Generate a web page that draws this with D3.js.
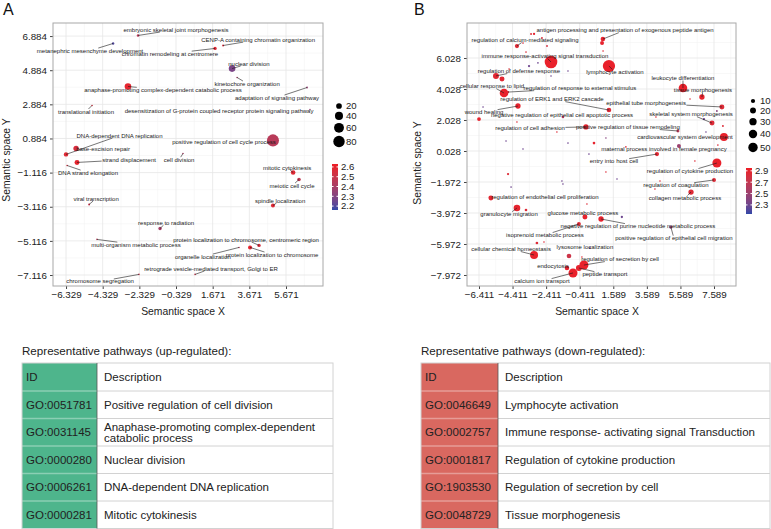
<!DOCTYPE html>
<html>
<head>
<meta charset="utf-8">
<script src="https://cdn.jsdelivr.net/npm/d3@7"></script>
<style>
  body { margin: 0; background: #fff; }
  svg { font-family: "Liberation Sans", Arial, Helvetica, sans-serif; }
</style>
</head>
<body>
<svg id="fig" width="771" height="529"></svg>
<script>
// ---- Panel A: up-regulated GO terms (semantic space) ----
const termsA = ["embryonic skeletal joint morphogenesis", "metanephric mesenchyme development", "chromatin remodeling at centromere",
  "CENP-A containing chromatin organization", "nuclear division", "kinetochore organization", "adaptation of signaling pathway",
  "desensitization of G-protein coupled receptor protein signaling pathway", "anaphase-promoting complex-dependent catabolic process",
  "translational initiation", "DNA-dependent DNA replication", "base-excision repair", "strand displacement", "DNA strand elongation",
  "cell division", "positive regulation of cell cycle process", "mitotic cytokinesis", "meiotic cell cycle", "spindle localization",
  "viral transcription", "response to radiation", "multi-organism metabolic process",
  "protein localization to chromosome, centromeric region", "protein localization to chromosome", "organelle localization",
  "retrograde vesicle-mediated transport, Golgi to ER", "chromosome segregation"];
const xA = [-2.40, -3.76, 1.80, 2.24, 2.73, 3.00, 6.82, 6.98, -2.95, -4.91, -6.33, -5.78, -5.73, -6.27, 0.05, 4.96, 6.06, 6.38, 4.96, -5.07, -1.20, -4.64, 4.20, 3.71, 3.11, 0.71, -2.35];
const yA = [6.92, 6.45, 6.16, 6.33, 4.98, 4.46, 3.87, 2.58, 3.93, 2.82, -0.05, 0.30, -0.52, -0.70, 0.00, 0.77, -1.11, -1.52, -3.04, -2.98, -4.39, -5.03, -5.38, -5.50, -5.50, -7.08, -7.08];
const sizeA = [4, 3.5, 7, 2.5, 27, 1.5, 2, 1.5, 27, 1.5, 12, 18, 15, 1.5, 1.5, 90, 13, 8, 10, 2.5, 7, 1.5, 7, 10, 1.5, 1.5, 1.5];
const valueA = [2.45, 2.2, 2.58, 2.55, 2.28, 2.4, 2.35, 2.35, 2.6, 2.55, 2.58, 2.55, 2.6, 2.55, 2.4, 2.45, 2.58, 2.48, 2.58, 2.5, 2.4, 2.45, 2.55, 2.6, 2.45, 2.5, 2.5];
const labelXA = [-0.33, -5.02, -0.66, 4.15, 3.65, 3.55, 5.18, 2.02, -1.04, -5.24, -3.41, -4.31, -2.89, -5.13, -0.16, 2.29, 5.73, 6.00, 5.35, -4.69, -0.87, -2.51, 3.49, 4.91, 1.14, 1.58, -4.47];
const labelYA = [7.27, 6.04, 5.86, 6.68, 5.28, 4.11, 3.29, 2.52, 3.74, 2.47, 1.06, 0.30, -0.35, -1.11, -0.35, 0.71, -0.82, -1.87, -2.75, -2.63, -4.04, -5.33, -5.03, -5.91, -6.03, -6.73, -7.49];
const ticksXA = [-6.329, -4.329, -2.329, -0.329, 1.671, 3.671, 5.671];
const ticksYA = [-7.116, -5.116, -3.116, -1.116, 0.884, 2.884, 4.884, 6.884];
const legendSizesA = [20, 40, 60, 80];
const legendColorsA = [2.2, 2.3, 2.4, 2.5, 2.6];

// ---- Panel B: down-regulated GO terms ----
const termsB = ["antigen processing and presentation of exogenous peptide antigen", "regulation of calcium-mediated signaling",
  "immune response-activating signal transduction", "lymphocyte activation", "regulation of defense response",
  "cellular response to lipid", "regulation of response to external stimulus", "leukocyte differentiation", "tissue morphogenesis",
  "regulation of ERK1 and ERK2 cascade", "epithelial tube morphogenesis", "wound healing",
  "negative regulation of epithelial cell apoptotic process", "skeletal system morphogenesis", "regulation of cell adhesion",
  "positive regulation of tissue remodeling", "cardiovascular system development", "maternal process involved in female pregnancy",
  "entry into host cell", "regulation of cytokine production", "regulation of coagulation", "collagen metabolic process",
  "regulation of endothelial cell proliferation", "granulocyte migration", "glucose metabolic process",
  "negative regulation of purine nucleotide metabolic process", "isoprenoid metabolic process",
  "positive regulation of epithelial cell migration", "lysosome localization", "cellular chemical homeostasis", "endocytosis",
  "regulation of secretion by cell", "peptide transport", "calcium ion transport"];
const xB = [0.97, -4.15, -2.12, 1.33, -5.40, -4.92, -4.68, 5.74, 6.87, 1.33, 8.06, -4.09, -1.41, 7.47, -0.04, 5.44, 8.18, 5.50, 4.19, 7.76, 7.59, 6.22, -5.70, -4.15, -0.10, 0.86, -0.46, 5.02, 0.20, -3.13, -1.17, -0.16, -0.46, -0.81];
const yB = [7.25, 6.80, 5.77, 5.51, 4.87, 3.77, 3.83, 4.09, 3.51, 2.67, 2.87, 2.93, 2.22, 1.83, 1.58, 1.32, 0.93, 0.35, -0.17, -0.75, -1.84, -2.62, -3.00, -3.65, -4.23, -4.36, -4.68, -4.88, -6.23, -6.68, -7.52, -7.33, -7.52, -7.84];
const sizeB = [12, 10, 90, 85, 20, 42, 3, 42, 16, 12, 14, 16, 4, 14, 16, 5, 36, 9, 10, 46, 9, 16, 14, 25, 14, 16, 9, 6, 2, 36, 12, 46, 20, 46];
const valueB = [2.9, 2.85, 2.92, 2.92, 2.88, 2.92, 2.85, 2.92, 2.9, 2.85, 2.85, 2.9, 2.6, 2.85, 2.9, 2.65, 2.92, 2.5, 2.88, 2.92, 2.85, 2.85, 2.88, 2.9, 2.9, 2.9, 2.85, 2.45, 2.3, 2.92, 2.9, 2.92, 2.9, 2.92];
const labelXB = [2.29, -3.67, -2.48, 1.69, -4.03, -5.64, -0.40, 5.74, 6.93, -2.06, 3.54, -6.11, -1.47, 6.22, -3.37, 2.46, 5.86, 4.61, 1.63, 6.16, 5.32, 5.86, -2.48, -4.62, -0.22, 3.06, -2.48, 5.20, -0.10, -4.50, -2.00, 1.99, 1.09, -2.66];
const labelYB = [7.83, 7.19, 6.16, 5.13, 5.19, 4.22, 4.09, 4.74, 3.96, 3.38, 3.12, 2.54, 2.35, 2.41, 1.51, 1.58, 0.93, 0.16, -0.62, -1.26, -2.17, -3.00, -2.94, -4.04, -3.97, -4.81, -5.39, -5.59, -6.17, -6.29, -7.39, -6.94, -7.91, -8.36];
// unlabelled terms in panel B
const extraXB = [-3.31, -3.13, -2.66, -2.36, -3.79, -3.61, 0.92, 0.98, -3.43, -2.90, -1.11, -2.12, -4.62, -6.17, -6.41, -4.15, -1.77, -4.80, -3.79, -1.11, 6.16, 7.76, 6.99, 8.12, 4.13, 7.11, 0.44, 1.15, 2.34, 6.45, 7.82, 0.14, 1.15, 1.81, 4.37, 4.07, 0.02, 2.10, -4.68, -4.50, -1.47, -1.41, -3.61, -2.96, -2.54, -1.05, -0.28, -5.04];
const extraYB = [7.58, 7.58, 7.32, 6.80, 6.99, 6.41, 6.99, 6.48, 5.51, 5.71, 5.19, 4.87, 5.32, 2.87, 2.09, 1.90, 1.25, 0.67, 0.16, 0.54, 3.38, 2.61, 2.09, 1.64, 2.22, 1.25, 0.54, 0.87, 0.29, -0.62, 0.41, -0.17, -1.33, -1.78, -1.91, -2.42, -3.39, -4.23, -1.46, -2.30, -1.91, -2.10, -3.78, -5.91, -5.84, -6.75, -6.81, 4.67];
const extraSizeB = [2, 3, 2, 2, 1.5, 1.5, 9, 1.5, 3, 1.5, 1.5, 1.5, 1.5, 1.5, 8, 1.5, 1.5, 1.5, 1.5, 1.5, 1.5, 2, 3, 2, 1.5, 1.5, 4, 1.5, 1.5, 1.5, 1.5, 1.5, 1.5, 1.5, 1.5, 1.5, 1.5, 3, 3, 1.5, 1.5, 1.5, 4, 4, 1.5, 12, 1.5, 14];
const extraValueB = [2.85, 2.9, 2.85, 2.8, 2.8, 2.85, 2.9, 2.85, 2.3, 2.3, 2.3, 2.3, 2.8, 2.3, 2.9, 2.85, 2.85, 2.3, 2.3, 2.3, 2.85, 2.4, 2.3, 2.85, 2.85, 2.3, 2.9, 2.4, 2.85, 2.85, 2.85, 2.3, 2.85, 2.3, 2.85, 2.85, 2.85, 2.3, 2.85, 2.3, 2.3, 2.3, 2.85, 2.85, 2.85, 2.75, 2.85, 2.88];
const ticksXB = [-6.411, -4.411, -2.411, -0.411, 1.589, 3.589, 5.589, 7.589];
const ticksYB = [-7.972, -5.972, -3.972, -1.972, 0.028, 2.028, 4.028, 6.028];
const legendSizesB = [10, 20, 30, 40, 50];
const legendColorsB = [2.3, 2.5, 2.7, 2.9];

// ---- tables ----
const idsUp = ["GO:0051781", "GO:0031145", "GO:0000280", "GO:0006261", "GO:0000281"];
const descUp = ["Positive regulation of cell division", "Anaphase-promoting complex-dependent catabolic process",
  "Nuclear division", "DNA-dependent DNA replication", "Mitotic cytokinesis"];
const idsDown = ["GO:0046649", "GO:0002757", "GO:0001817", "GO:1903530", "GO:0048729"];
const descDown = ["Lymphocyte activation", "Immune response- activating signal Transduction",
  "Regulation of cytokine production", "Regulation of secretion by cell", "Tissue morphogenesis"];

const svg = d3.select("#fig");
const LOW = "#3048a8", HIGH = "#ee1c25";
const fmt = d3.format(".3f");

function gridVals(ticks, dom) {
  const lo = Math.min(...dom), hi = Math.max(...dom);
  return [ticks[0] - 1, ...ticks.map(t => t + 1)].filter(v => v > lo && v < hi);
}

function drawPanel(p) {
  const g = svg.append("g");
  const x = d3.scaleLinear().domain(p.xDomain).range([p.left, p.right]);
  const y = d3.scaleLinear().domain(p.yDomain).range([p.bottom, p.top]);
  const r = d3.scaleSqrt().domain([0, p.sizeMax]).range([0, p.rMax]);
  const col = d3.scaleLinear().domain(p.colDomain).range([LOW, HIGH]).interpolate(d3.interpolateLab).clamp(true);

  g.append("rect").attr("x", p.left).attr("y", p.top)
    .attr("width", p.right - p.left).attr("height", p.bottom - p.top).attr("fill", "#fff");

  // grid
  const grid = g.append("g");
  grid.selectAll(".mx").data(gridVals(p.ticksX, p.xDomain)).join("line")
    .attr("x1", d => x(d)).attr("x2", d => x(d)).attr("y1", p.top).attr("y2", p.bottom)
    .attr("stroke", "#f3f3f3").attr("stroke-width", 0.6);
  grid.selectAll(".my").data(gridVals(p.ticksY, p.yDomain)).join("line")
    .attr("y1", d => y(d)).attr("y2", d => y(d)).attr("x1", p.left).attr("x2", p.right)
    .attr("stroke", "#f3f3f3").attr("stroke-width", 0.6);
  grid.selectAll(".gx").data(p.ticksX).join("line")
    .attr("x1", d => x(d)).attr("x2", d => x(d)).attr("y1", p.top).attr("y2", p.bottom)
    .attr("stroke", "#e6e6e6").attr("stroke-width", 0.8);
  grid.selectAll(".gy").data(p.ticksY).join("line")
    .attr("y1", d => y(d)).attr("y2", d => y(d)).attr("x1", p.left).attr("x2", p.right)
    .attr("stroke", "#e6e6e6").attr("stroke-width", 0.8);

  // axes
  const ax = g.append("g").attr("transform", `translate(0,${p.bottom})`)
    .call(d3.axisBottom(x).tickValues(p.ticksX).tickFormat(fmt).tickSize(3).tickPadding(2));
  const ay = g.append("g").attr("transform", `translate(${p.left},0)`)
    .call(d3.axisLeft(y).tickValues(p.ticksY).tickFormat(fmt).tickSize(3).tickPadding(3));
  [ax, ay].forEach(a => {
    a.select(".domain").remove();
    a.selectAll("line").attr("stroke", "#444");
    a.selectAll("text").attr("font-size", 9.8).attr("fill", "#222").attr("font-family", null);
  });

  g.append("rect").attr("x", p.left).attr("y", p.top)
    .attr("width", p.right - p.left).attr("height", p.bottom - p.top)
    .attr("fill", "none").attr("stroke", "#a8a8a8").attr("stroke-width", 1);

  g.append("text").attr("x", p.titleX).attr("y", 315).attr("text-anchor", "middle")
    .attr("font-size", 10.4).attr("fill", "#222").text("Semantic space X");
  g.append("text").attr("transform", `translate(${p.yTitleX},${p.yTitleY}) rotate(-90)`)
    .attr("text-anchor", "middle").attr("font-size", 10.4).attr("fill", "#222").text("Semantic space Y");
  g.append("text").attr("x", p.letterX).attr("y", 15).attr("font-size", 16).attr("fill", "#111").text(p.letter);

  // points
  const pts = p.terms.map((t, i) => ({ t, x: p.xs[i], y: p.ys[i], s: p.sizes[i], v: p.values[i], lx: p.lxs[i], ly: p.lys[i] }));
  const extra = (p.extraX || []).map((d, i) => ({ x: d, y: p.extraY[i], s: p.extraS[i], v: p.extraV[i] }));
  const all = pts.concat(extra).sort((a, b) => b.s - a.s);
  g.append("g").selectAll("circle").data(all).join("circle")
    .attr("cx", d => x(d.x)).attr("cy", d => y(d.y)).attr("r", d => Math.max(0.8, r(d.s)))
    .attr("fill", d => col(d.v));

  const segG = g.append("g");
  const txt = g.append("g").selectAll("text").data(pts).join("text")
    .attr("x", d => x(d.lx)).attr("y", d => y(d.ly)).attr("dy", "0.35em")
    .attr("text-anchor", "middle").attr("font-size", 6).attr("fill", "#1a1a1a")
    .text(d => d.t);

  // repel-style segments from point toward label centre, stopping at the label box
  txt.each(function (d) {
    const bb = this.getBBox();
    const cx = bb.x + bb.width / 2, cy = bb.y + bb.height / 2;
    const px = x(d.x), py = y(d.y);
    const dx = px - cx, dy = py - cy;
    const sx = dx !== 0 ? (bb.width / 2 + 0.5) / Math.abs(dx) : Infinity;
    const sy = dy !== 0 ? (bb.height / 2 - 0.5) / Math.abs(dy) : Infinity;
    const s = Math.min(sx, sy);
    if (s >= 1) return;
    const ex = cx + dx * s, ey = cy + dy * s;
    if (Math.hypot(px - ex, py - ey) < 3) return;
    segG.append("line").attr("x1", ex).attr("y1", ey).attr("x2", px).attr("y2", py)
      .attr("stroke", "#1a1a1a").attr("stroke-width", 0.6);
  });

  // size legend
  const lg = g.append("g");
  let cy = p.legTop;
  p.legSizes.forEach((v, i) => {
    if (i > 0) cy += r(p.legSizes[i - 1]) + r(v) + p.legGap;
    lg.append("circle").attr("cx", p.legX).attr("cy", cy).attr("r", r(v)).attr("fill", "#000");
    lg.append("text").attr("x", p.legX + 7).attr("y", cy).attr("dy", "0.35em")
      .attr("font-size", 9.6).attr("fill", "#222").text(v);
  });

  // colour bar
  const cb = p.bar;
  const gid = "grad" + p.letter;
  const grad = svg.append("defs").append("linearGradient").attr("id", gid)
    .attr("x1", 0).attr("y1", 1).attr("x2", 0).attr("y2", 0);
  d3.range(0, 1.0001, 0.1).forEach(t => {
    const v = p.colDomain[0] + t * (p.colDomain[1] - p.colDomain[0]);
    grad.append("stop").attr("offset", t).attr("stop-color", col(v));
  });
  const by = d3.scaleLinear().domain(p.colDomain).range([cb.y + cb.h, cb.y]);
  lg.append("rect").attr("x", cb.x).attr("y", cb.y).attr("width", cb.w).attr("height", cb.h)
    .attr("fill", `url(#${gid})`);
  p.legColors.forEach(v => {
    lg.append("line").attr("x1", cb.x).attr("x2", cb.x + 1.5).attr("y1", by(v)).attr("y2", by(v)).attr("stroke", "#fff");
    lg.append("line").attr("x1", cb.x + cb.w - 1.5).attr("x2", cb.x + cb.w).attr("y1", by(v)).attr("y2", by(v)).attr("stroke", "#fff");
    lg.append("text").attr("x", cb.x + cb.w + 3).attr("y", by(v)).attr("dy", "0.35em")
      .attr("font-size", 9.6).attr("fill", "#222").text(v.toFixed(1));
  });
}

drawPanel({
  letter: "A", letterX: 3, left: 53, right: 323, top: 23, bottom: 286,
  xDomain: [-7.04, 7.69], yDomain: [-7.76, 7.65], ticksX: ticksXA, ticksY: ticksYA,
  sizeMax: 80, rMax: 5.7, colDomain: [2.16, 2.63],
  titleX: 183, yTitleX: 10, yTitleY: 160,
  terms: termsA, xs: xA, ys: yA, sizes: sizeA, values: valueA, lxs: labelXA, lys: labelYA,
  legX: 339, legTop: 106, legGap: 3, legSizes: legendSizesA, legColors: legendColorsA,
  bar: { x: 332, y: 164, w: 6, h: 46 }
});

drawPanel({
  letter: "B", letterX: 414, left: 467, right: 736, top: 23, bottom: 286,
  xDomain: [-7.125, 8.899], yDomain: [-8.682, 8.286], ticksX: ticksXB, ticksY: ticksYB,
  sizeMax: 50, rMax: 4.7, colDomain: [2.14, 2.95],
  titleX: 597, yTitleX: 421, yTitleY: 163,
  terms: termsB, xs: xB, ys: yB, sizes: sizeB, values: valueB, lxs: labelXB, lys: labelYB,
  extraX: extraXB, extraY: extraYB, extraS: extraSizeB, extraV: extraValueB,
  legX: 753, legTop: 101, legGap: 4.5, legSizes: legendSizesB, legColors: legendColorsB,
  bar: { x: 746, y: 168, w: 6, h: 46 }
});

function drawTable(x0, x1, idW, fill, title, ids, descs) {
  const g = svg.append("g");
  const top = 363, headH = 28, rowH = 27.5;
  const bottom = top + headH + ids.length * rowH;
  const rowTop = i => top + headH + i * rowH;
  const fs = 11.5;

  g.append("text").attr("x", x0).attr("y", 355).attr("font-size", 11.6).attr("fill", "#222").text(title);
  g.append("rect").attr("x", x0).attr("y", top).attr("width", idW).attr("height", bottom - top).attr("fill", fill);
  g.append("rect").attr("x", x0 + idW).attr("y", top).attr("width", x1 - x0 - idW).attr("height", bottom - top).attr("fill", "#fff");

  ids.forEach((d, i) => {
    const yy = rowTop(i);
    g.append("line").attr("x1", x0).attr("x2", x0 + idW).attr("y1", yy).attr("y2", yy)
      .attr("stroke", "#fff").attr("stroke-opacity", 0.35).attr("stroke-width", 1.5);
    g.append("line").attr("x1", x0 + idW).attr("x2", x1).attr("y1", yy).attr("y2", yy)
      .attr("stroke", "#d2d2d2").attr("stroke-width", 1);
  });
  g.append("rect").attr("x", x0).attr("y", top).attr("width", x1 - x0).attr("height", bottom - top)
    .attr("fill", "none").attr("stroke", "#d2d2d2");
  g.append("line").attr("x1", x0 + idW).attr("x2", x0 + idW).attr("y1", top).attr("y2", bottom)
    .attr("stroke", "#555").attr("stroke-width", 0.8);

  g.append("text").attr("x", x0 + 4).attr("y", top + headH / 2).attr("dy", "0.35em")
    .attr("font-size", fs).attr("fill", "#222").text("ID");
  g.append("text").attr("x", x0 + idW + 7).attr("y", top + headH / 2).attr("dy", "0.35em")
    .attr("font-size", fs).attr("fill", "#222").text("Description");

  const maxW = x1 - x0 - idW - 12;
  ids.forEach((d, i) => {
    const cy = rowTop(i) + rowH / 2;
    g.append("text").attr("x", x0 + 4).attr("y", cy).attr("dy", "0.35em")
      .attr("font-size", fs).attr("fill", "#222").text(d);
    // wrap description to the cell width
    const t = g.append("text").attr("font-size", fs).attr("fill", "#222");
    const words = descs[i].split(" ");
    const lines = [];
    let cur = "";
    words.forEach(w => {
      const test = cur ? cur + " " + w : w;
      t.text(test);
      if (t.node().getComputedTextLength() > maxW && cur) { lines.push(cur); cur = w; } else cur = test;
    });
    lines.push(cur);
    t.text(null);
    const lh = 11.2;
    lines.forEach((ln, k) => {
      t.append("tspan").attr("x", x0 + idW + 7)
        .attr("y", cy + (k - (lines.length - 1) / 2) * lh).attr("dy", "0.35em").text(ln);
    });
  });
}

drawTable(22, 333, 75, "#4eb58c", "Representative pathways (up-regulated):", idsUp, descUp);
drawTable(421, 770, 77, "#d96860", "Representative pathways (down-regulated):", idsDown, descDown);
</script>
</body>
</html>
